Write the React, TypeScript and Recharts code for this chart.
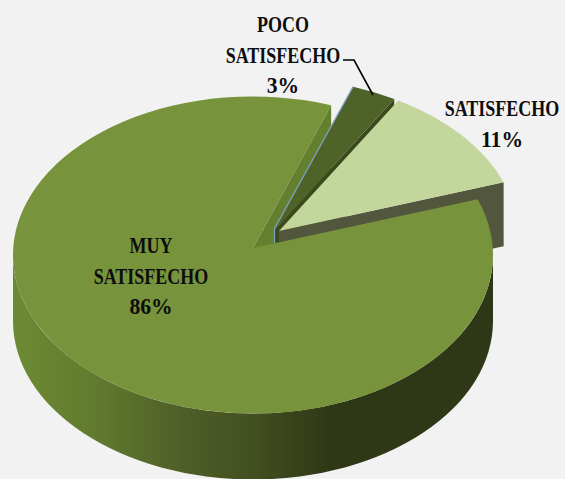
import { PieChart, Pie } from 'recharts';

const categories = ['POCO SATISFECHO', 'SATISFECHO', 'MUY SATISFECHO'];
const percents = [3, 11, 86];

const chartData = categories.map((name, i) => ({ name, value: percents[i] }));

const SQUASH = 158.5 / 240; // pie is tilted, so circle -> ellipse
const DEPTH = 66;
const CUT_DEPTH = 64; // exploded slices sit a touch further back
const APEX_LIFT = 7; // perspective moves the slice tip above the ellipse centre
const RAD = Math.PI / 180;

const sliceStyles: Record<string, any> = {
  'POCO SATISFECHO': { dx: 22, dy: -18.5, top: '#4f6228', wall: '#3b4a1d' },
  SATISFECHO: { dx: 26, dy: -17, top: '#c3d69b', wall: '#52563c' },
  'MUY SATISFECHO': { dx: 0, dy: 0, top: '#77933c', wall: '#63802f' },
};

const labelStyles: Record<string, any> = {
  'POCO SATISFECHO': { x: 283, y: 32 },
  SATISFECHO: { x: 502, y: 116 },
  'MUY SATISFECHO': { x: 151, y: 253 },
};

function getGeometry(props: any) {
  const { cx, cy, outerRadius, startAngle, endAngle, name } = props;
  const style = sliceStyles[name];
  const rx = outerRadius;
  const ry = outerRadius * SQUASH;
  const ox = cx + style.dx;
  const oy = cy + style.dy;
  const point = (deg: number) => ({
    x: ox + rx * Math.cos(deg * RAD),
    y: oy - ry * Math.sin(deg * RAD),
  });
  return {
    style,
    rx,
    ry,
    ox,
    oy,
    apex: { x: ox, y: oy - APEX_LIFT },
    start: point(startAngle),
    end: point(endAngle),
    large: Math.abs(endAngle - startAngle) > 180 ? 1 : 0,
  };
}

// the cut face of the big slice sits behind the two exploded ones
function BackShape(props: any) {
  if (props.name !== 'MUY SATISFECHO') return <g />;
  const { style, apex, end } = getGeometry(props);
  return (
    <path
      d={`M${end.x},${end.y} L${end.x},${end.y + DEPTH} L${apex.x},${apex.y + DEPTH} L${apex.x},${apex.y} Z`}
      fill={style.wall}
    />
  );
}

function FrontShape(props: any) {
  const { name } = props;
  const { style, rx, ry, ox, oy, apex, start, end, large } = getGeometry(props);
  const top = `M${apex.x},${apex.y} L${start.x},${start.y} A${rx},${ry} 0 ${large} 1 ${end.x},${end.y} Z`;

  if (name === 'MUY SATISFECHO') {
    const right = ox + rx;
    const left = ox - rx;
    const wall = `M${right},${oy} L${right},${oy + DEPTH} A${rx},${ry} 0 0 1 ${left},${oy + DEPTH} L${left},${oy} A${rx},${ry} 0 0 0 ${right},${oy} Z`;
    return (
      <g>
        <path d={wall} fill="url(#outerWall)" />
        <path d={top} fill={style.top} />
      </g>
    );
  }

  // the face on the clockwise side of the slice shows below its top
  const cut = `M${apex.x},${apex.y} L${end.x},${end.y} L${end.x},${end.y + CUT_DEPTH} L${apex.x},${apex.y + CUT_DEPTH} Z`;
  return (
    <g>
      <path d={cut} fill={style.wall} />
      <path d={top} fill={style.top} />
      {name === 'POCO SATISFECHO' && (
        <polyline
          points={`${start.x},${start.y} ${apex.x - 0.5},${apex.y - 1} ${apex.x - 0.5},${apex.y + 14}`}
          fill="none"
          stroke="#7f9fc4"
          strokeWidth={1.2}
        />
      )}
    </g>
  );
}

function renderLabel(props: any) {
  const { name, value } = props;
  const style = labelStyles[name];
  const words = name.split(' ');
  const lines = [...words, `${value}%`];
  return (
    <g key={name}>
      {name === 'POCO SATISFECHO' && (
        <polyline points="343,60 354,60 373,95" fill="none" stroke="#000" strokeWidth={1.6} />
      )}
      {lines.map((line: string, i: number) => (
        <text
          key={line}
          transform={`translate(${style.x},${style.y + i * 30.5}) scale(${i < words.length ? 0.75 : 0.9},1)`}
          textAnchor="middle"
          fontFamily="'Liberation Serif', serif"
          fontWeight="bold"
          fontSize={24}
          fill="#0d0d0d"
        >
          {line}
        </text>
      ))}
    </g>
  );
}

export default function App() {
  return (
    <div style={{ position: 'fixed', left: 0, top: 0, width: 565, height: 479, background: '#f2f2f2', overflow: 'hidden' }}>
      <PieChart width={565} height={479} margin={{ top: 0, right: 0, bottom: 0, left: 0 }}>
        <defs>
          <linearGradient id="outerWall" gradientUnits="userSpaceOnUse" x1="13" y1="0" x2="493" y2="0">
            <stop offset="0%" stopColor="#6c8a34" />
            <stop offset="15%" stopColor="#637d2f" />
            <stop offset="35%" stopColor="#505f28" />
            <stop offset="50%" stopColor="#424f20" />
            <stop offset="66%" stopColor="#2f3816" />
            <stop offset="100%" stopColor="#2f3816" />
          </linearGradient>
        </defs>
        <Pie
          data={chartData}
          dataKey="value"
          nameKey="name"
          cx={253}
          cy={255}
          outerRadius={240}
          startAngle={71}
          endAngle={-289}
          paddingAngle={0}
          stroke="none"
          shape={BackShape}
          isAnimationActive={false}
        />
        <Pie
          data={chartData}
          dataKey="value"
          nameKey="name"
          cx={253}
          cy={255}
          outerRadius={240}
          startAngle={71}
          endAngle={-289}
          paddingAngle={0}
          stroke="none"
          shape={FrontShape}
          label={renderLabel}
          labelLine={false}
          isAnimationActive={false}
        />
      </PieChart>
    </div>
  );
}
